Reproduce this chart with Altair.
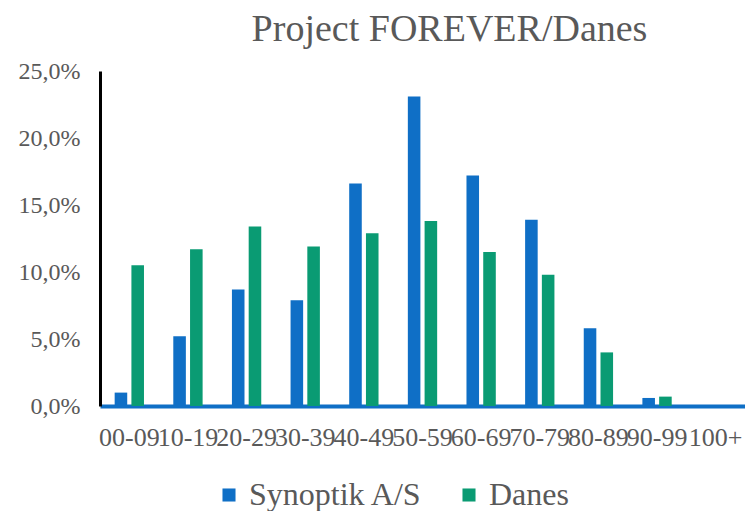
import altair as alt
import pandas as pd

ages = ["00-09", "10-19", "20-29", "30-39", "40-49", "50-59", "60-69", "70-79", "80-89", "90-99", "100+"]
synoptik = [1.0, 5.2, 8.7, 7.9, 16.6, 23.1, 17.2, 13.9, 5.8, 0.6, 0.0]
danes = [10.5, 11.7, 13.4, 11.9, 12.9, 13.8, 11.5, 9.8, 4.0, 0.7, 0.0]
series = ["Synoptik A/S", "Danes"]
colors = ["#0F6FC6", "#0A9B73"]

rows = []
for a, s, d in zip(ages, synoptik, danes):
    rows.append({"age": a, "series": series[0], "value": s})
    rows.append({"age": a, "series": series[1], "value": d})
df = pd.DataFrame(rows)

FONT = "'Liberation Serif', 'Times New Roman', serif"
GRAY = "#595959"

chart = alt.Chart(df).mark_bar().encode(
    x=alt.X("age:N", sort=ages, title=None,
            scale=alt.Scale(paddingInner=0.5, paddingOuter=0.25),
            axis=alt.Axis(labelAngle=0, ticks=False, domainColor="#0F6FC6", domainWidth=4,
                          labelPadding=18, labelFontSize=26, labelFont=FONT, labelColor=GRAY,
                          grid=False)),
    xOffset=alt.XOffset("series:N", sort=series, scale=alt.Scale(paddingInner=0.25)),
    y=alt.Y("value:Q", title=None,
            scale=alt.Scale(domain=[0, 25], nice=False),
            axis=alt.Axis(values=[0, 5, 10, 15, 20, 25], grid=False, ticks=False,
                          domainColor="black", domainWidth=3,
                          labelExpr="replace(format(datum.value, '.1f'), '.', ',') + '%'",
                          labelPadding=20, labelFontSize=24, labelFont=FONT, labelColor=GRAY)),
    color=alt.Color("series:N", sort=series,
                    scale=alt.Scale(domain=series, range=colors),
                    legend=alt.Legend(title=None, orient="none", direction="horizontal",
                                      legendX=113, legendY=408,
                                      symbolType="square", symbolSize=170, symbolStrokeWidth=0,
                                      labelFontSize=32, labelFont=FONT, labelColor=GRAY,
                                      labelLimit=400,
                                      columnPadding=30, labelOffset=4)),
).properties(
    width=645,
    height=335,
    padding={"left": 10, "top": 3, "right": 0, "bottom": 0},
    title=alt.TitleParams("Project FOREVER/Danes", font=FONT, fontSize=38, fontWeight="normal",
                          color=GRAY, dx=27, offset=10),
).configure_view(stroke=None).configure_legend(labelFont=FONT)

chart.save("out.html", embed_options={"renderer": "svg", "actions": False})
